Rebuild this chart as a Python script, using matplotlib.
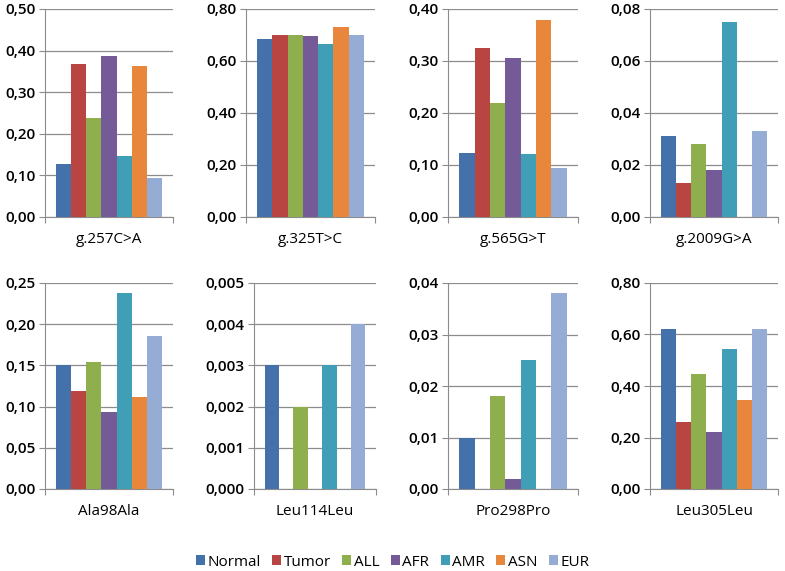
import numpy as np
import matplotlib
matplotlib.use('Agg')
import matplotlib.pyplot as plt
from matplotlib.ticker import FuncFormatter
from matplotlib.patches import Patch

groups = ["Normal", "Tumor", "ALL", "AFR", "AMR", "ASN", "EUR"]
colors = ["#4471A9", "#B94543", "#8FAF4F", "#755A98", "#409EB7", "#E8863B", "#95ACD5"]

variants = ["g.257C>A", "g.325T>C", "g.565G>T", "g.2009G>A",
            "Ala98Ala", "Leu114Leu", "Pro298Pro", "Leu305Leu"]

g257 = [0.128, 0.368, 0.238, 0.386, 0.146, 0.363, 0.094]
g325 = [0.685, 0.700, 0.700, 0.695, 0.665, 0.730, 0.700]
g565 = [0.124, 0.325, 0.220, 0.305, 0.122, 0.378, 0.095]
g2009 = [0.031, 0.013, 0.028, 0.018, 0.075, 0.0, 0.033]
ala98 = [0.150, 0.119, 0.154, 0.093, 0.238, 0.112, 0.186]
leu114 = [0.003, 0.0, 0.002, 0.0, 0.003, 0.0, 0.004]
pro298 = [0.010, 0.0, 0.018, 0.002, 0.025, 0.0, 0.038]
leu305 = [0.623, 0.260, 0.448, 0.222, 0.545, 0.344, 0.623]

values = [g257, g325, g565, g2009, ala98, leu114, pro298, leu305]
ymax = [0.5, 0.8, 0.4, 0.08, 0.25, 0.005, 0.04, 0.8]
ystep = [0.1, 0.2, 0.1, 0.02, 0.05, 0.001, 0.01, 0.2]
ydec = [2, 2, 2, 2, 2, 3, 2, 2]

# axes boxes in pixels (left, right, top, bottom) from the top-left corner
W, H = 785, 571
boxes = [(45, 173, 9, 217), (246, 375, 9, 217), (448, 578, 9, 217), (650, 778, 9, 217),
         (45, 173, 283, 489), (254, 376, 283, 489), (448, 578, 283, 489), (650, 778, 283, 489)]

plt.rcParams['font.family'] = ['Open Sans', 'DejaVu Sans']

fig = plt.figure(figsize=(W / 100, H / 100), dpi=100)
grey = "#8c8c8c"

for i in range(8):
    l, r, t, b = boxes[i]
    ax = fig.add_axes([l / W, 1 - b / H, (r - l) / W, (b - t) / H])
    x = np.arange(len(groups))
    ax.bar(x, values[i], width=1.0, color=colors, zorder=3)
    ax.set_xlim(-1.23, 7.23)
    ax.set_ylim(0, ymax[i])
    ax.set_yticks(np.linspace(0, ymax[i], int(round(ymax[i] / ystep[i])) + 1))
    d = ydec[i]
    ax.yaxis.set_major_formatter(FuncFormatter(lambda v, p, d=d: f"{v:.{d}f}".replace(".", ",")))
    ax.set_xticks([-1.23, 7.23])
    ax.set_xticklabels([])
    ax.tick_params(axis='x', length=4, color=grey, direction='out')
    ax.tick_params(axis='y', length=4, color=grey, labelsize=11, pad=3)
    for lab in ax.get_yticklabels():
        lab.set_fontweight('semibold')
    ax.grid(axis='y', color=grey, linewidth=0.9, zorder=0)
    for s in ['top', 'right']:
        ax.spines[s].set_visible(False)
    for s in ['left', 'bottom']:
        ax.spines[s].set_color(grey)
    ax.set_xlabel(variants[i], fontsize=11, labelpad=3)

handles = [Patch(facecolor=c, label=g) for c, g in zip(colors, groups)]
fig.legend(handles=handles, loc='center', bbox_to_anchor=(0.5, 1 - 562 / H), ncol=7,
           frameon=False, fontsize=11, handlelength=0.6, handleheight=0.6,
           handletextpad=0.15, columnspacing=0.75)

fig.savefig("out.png", dpi=100)
